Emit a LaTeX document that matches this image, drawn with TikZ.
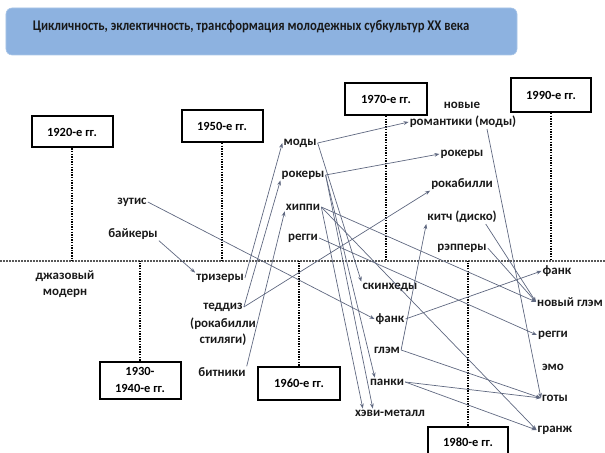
\documentclass[tikz,border=0pt]{standalone}
\usepackage{fontspec}
\setmainfont{Carlito}
\newfontfamily\titlefont[FakeStretch=0.86]{Carlito}
\usetikzlibrary{arrows.meta,calc}
\definecolor{titlefill}{RGB}{141,178,224}
\definecolor{titleedge}{RGB}{170,198,232}
\definecolor{arrcol}{RGB}{95,104,128}
\definecolor{txtcol}{RGB}{25,25,25}
\tikzset{
  lbl/.style={inner sep=1bp, font=\bfseries\fontsize{13}{16}\selectfont, text=txtcol, align=center},
  yearbox/.style={draw=black, line width=2bp, fill=white, minimum width=81bp, minimum height=32bp, inner sep=1bp, font=\bfseries\fontsize{12.5}{17}\selectfont, align=center},
  vdot/.style={line width=2bp, dash pattern=on 1.4bp off 1.2bp, black},
  hdot/.style={line width=1.4bp, dash pattern=on 1.5bp off 1.5bp, black!65},
  arr/.style={draw=arrcol, line width=0.7bp, -{Stealth[length=5bp,width=3.8bp]}}
}
\begin{document}
\begin{tikzpicture}[x=1bp,y=-1bp]
\useasboundingbox (0,0) rectangle (605,453);
% title
\node[draw=titleedge, line width=0.6bp, fill=titlefill, rounded corners=6bp, minimum width=511bp, minimum height=47bp] (titlebar) at (261.5,31.5) {};
\node[inner sep=0pt, font=\titlefont\bfseries\fontsize{14.8}{16}\selectfont, text=txtcol] (title) at (251,27) {Цикличность, эклектичность, трансформация молодежных субкультур XX века};
% horizontal line
\coordinate (hl) at (0,261);
\coordinate (hr) at (605,261);
\draw[hdot] (hl) -- (hr);
% year boxes
\node[yearbox, minimum height=31bp] (b1920) at (72,132) {1920-е гг.};
\node[yearbox] (b1950) at (222,126) {1950-е гг.};
\node[yearbox, minimum width=82bp] (b1970) at (386,99) {1970-е гг.};
\node[yearbox, minimum width=80bp, minimum height=34bp] (b1990) at (551,95) {1990-е гг.};
\node[yearbox, minimum height=37bp] (b1930) at (140,380) {1930-\\1940-е гг.};
\node[yearbox, minimum width=82bp, minimum height=33bp] (b1960) at (299,383) {1960-е гг.};
\node[yearbox, minimum width=80bp, minimum height=31bp] (b1980) at (468,442) {1980-е гг.};
% vertical dotted lines
\draw[vdot] (b1920.south) -- (b1920.south |- hl);
\draw[vdot] (b1950.south) -- (b1950.south |- hl);
\draw[vdot] (b1970.south) -- (b1970.south |- hl);
\draw[vdot] (b1990.south) -- (b1990.south |- hl);
\draw[vdot] (b1930.north) -- (b1930.north |- hl);
\draw[vdot] (b1960.north) -- (b1960.north |- hl);
\draw[vdot] (b1980.north) -- (b1980.north |- hl);
% labels
\node[lbl] (dzhaz) at (65,284) {джазовый\\модерн};
\node[lbl] (zutis) at (132,202) {зутис};
\node[lbl] (baikery) at (133,234) {байкеры};
\node[lbl] (trizery) at (220,278) {тризеры};
\node[lbl] (teddiz) at (223,307) {теддиз};
\node[lbl] (teddizsub) at (223,332) {(рокабилли\\стиляги)};
\node[lbl] (bitniki) at (222,372) {битники};
\node[lbl] (mody) at (300,143) {моды};
\node[lbl] (rokery) at (303,175) {рокеры};
\node[lbl] (hippi) at (303,207) {хиппи};
\node[lbl] (reggi) at (303,238) {регги};
\node[lbl] (skinhedy) at (390,287) {скинхеды};
\node[lbl] (fank) at (390,319) {фанк};
\node[lbl] (glam) at (387,350) {глэм};
\node[lbl] (panki) at (387,382) {панки};
\node[lbl] (heavy) at (390,413) {хэви-металл};
\node[lbl] (novye) at (462,105) {новые};
\node[lbl] (romantiki) at (463,122) {романтики (моды)};
\node[lbl] (rokery2) at (462,154) {рокеры};
\node[lbl] (rokabilli) at (462,184) {рокабилли};
\node[lbl] (kitch) at (462,217) {китч (диско)};
\node[lbl] (reppery) at (462,248) {рэпперы};
\node[lbl] (fank2) at (557,271) {фанк};
\node[lbl] (novglam) at (570,302) {новый глэм};
\node[lbl] (reggi2) at (553,335) {регги};
\node[lbl] (emo) at (553,367) {эмо};
\node[lbl] (goty) at (555,398) {готы};
\node[lbl] (granzh) at (555,430) {гранж};
% connectors
\draw[arr] (baikery.south east) -- (trizery.north west);
\draw[arr] (zutis.east) -- (fank.west);
\draw[arr] (trizery.east) -- (mody.west);
\draw[arr] (teddiz.east) -- (rokery.south west);
\draw[arr] (teddiz.east) -- (rokabilli.south west);
\draw[arr] (bitniki.north east) -- (hippi.south west);
\draw[arr] (mody.east) -- (romantiki.west);
\draw[arr] (mody.east) -- (skinhedy.north west);
\draw[arr] (rokery.east) -- (rokery2.west);
\draw[arr] (rokery.east) -- ($(panki.north west)+(6,0)$);
\draw[arr] (rokery.east) -- ($(heavy.north west)+(19,0)$);
\draw[arr] (hippi.east) -- ($(heavy.north west)+(9,0)$);
\draw[arr] (hippi.east) -- (novglam.west);
\draw[arr] (hippi.east) -- (granzh.west);
\draw[arr] (reggi.east) -- (reggi2.west);
\draw[arr] (fank.east) -- (fank2.west);
\draw[arr] (glam.east) -- (kitch.south west);
\draw[arr] (glam.east) -- (goty.west);
\draw[arr] (panki.east) -- (goty.west);
\draw[arr] (panki.east) -- (granzh.west);
\draw[arr] ($(kitch.south east)+(-12,0)$) -- (novglam.west);
\draw[arr] (reppery.east) -- (novglam.west);
\draw[arr] ($(romantiki.south)+(24,0)$) -- (goty.west);
\end{tikzpicture}
\end{document}
